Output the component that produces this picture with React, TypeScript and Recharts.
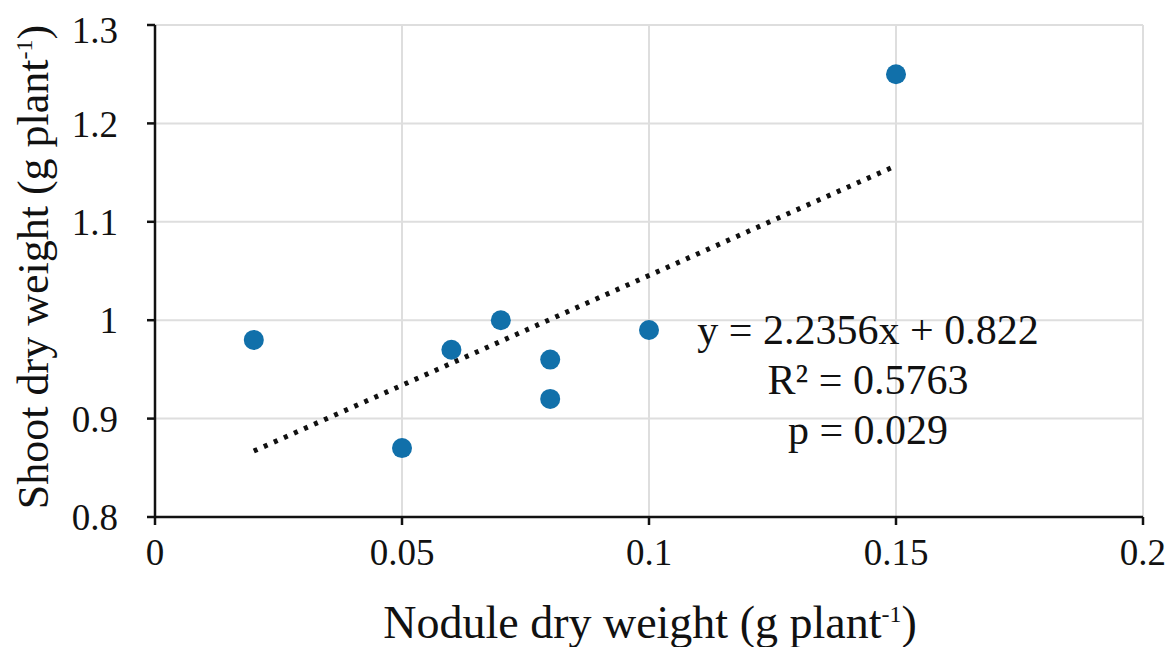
import {
  ScatterChart,
  Scatter,
  XAxis,
  YAxis,
  CartesianGrid,
  ReferenceLine,
  Customized,
} from "recharts";

// nodule dry weight (x) vs shoot dry weight (y), g plant-1
const noduleWeight = [0.02, 0.05, 0.06, 0.07, 0.08, 0.08, 0.1, 0.15];
const shootWeight = [0.98, 0.87, 0.97, 1.0, 0.96, 0.92, 0.99, 1.25];

// fitted trendline end points (y = 2.2356x + 0.822)
const trendX = [0.02, 0.15];
const trendY = [0.867, 1.157];

const xTicks = [0, 0.05, 0.1, 0.15, 0.2];
const yTicks = [0.8, 0.9, 1, 1.1, 1.2, 1.3];

const annotation = ["y = 2.2356x + 0.822", "R² = 0.5763", "p = 0.029"];

const points = noduleWeight.map((x, i) => ({ x, y: shootWeight[i] }));

const FONT = "Times New Roman, Liberation Serif, serif";
const DOT = "#1170aa";

const Dot = (props: any) => <circle cx={props.cx} cy={props.cy} r={10} fill={DOT} />;

const Texts = () => (
  <g style={{ fontFamily: FONT }} fill="#111">
    {annotation.map((t, i) => (
      <text key={t} x={860} y={336 + i * 50} fontSize={42} textAnchor="middle">
        {t}
      </text>
    ))}
    <text x={642} y={630} fontSize={46} textAnchor="middle">
      Nodule dry weight (g plant
      <tspan fontSize={24} dy={-16}>-1</tspan>
      <tspan dy={16}>)</tspan>
    </text>
    <text x={40} y={259} fontSize={44} textAnchor="middle" transform="rotate(-90 40 259)">
      Shoot dry weight (g plant
      <tspan fontSize={24} dy={-16}>-1</tspan>
      <tspan dy={16}>)</tspan>
    </text>
  </g>
);

const App = () => {
  const tick = { fill: "#111", fontSize: 37, fontFamily: FONT };
  return (
    <ScatterChart
      width={1158}
      height={639}
      margin={{ top: 17, right: 23, left: 67, bottom: 50 }}
    >
      <CartesianGrid stroke="#dedede" strokeWidth={2} />
      <XAxis
        type="number"
        dataKey="x"
        domain={[0, 0.2]}
        ticks={xTicks}
        height={80}
        tick={tick}
        tickSize={8}
        tickMargin={14}
        axisLine={{ stroke: "#111", strokeWidth: 2.5 }}
        tickLine={{ stroke: "#111", strokeWidth: 2.5 }}
      />
      <YAxis
        type="number"
        dataKey="y"
        domain={[0.8, 1.3]}
        ticks={yTicks}
        width={80}
        tick={tick}
        tickSize={8}
        tickMargin={29}
        axisLine={{ stroke: "#111", strokeWidth: 2.5 }}
        tickLine={{ stroke: "#111", strokeWidth: 2.5 }}
      />
      <ReferenceLine
        segment={[
          { x: trendX[0], y: trendY[0] },
          { x: trendX[1], y: trendY[1] },
        ]}
        stroke="#111"
        strokeWidth={5}
        strokeDasharray="4 7"
      />
      <Scatter data={points} shape={Dot} isAnimationActive={false} />
      <Customized component={Texts} />
    </ScatterChart>
  );
};

export default App;
